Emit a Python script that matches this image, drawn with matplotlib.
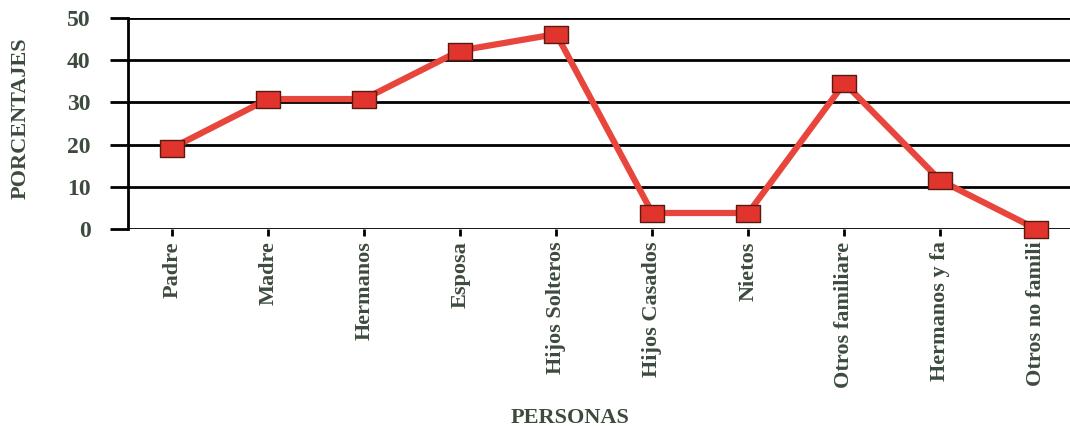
import numpy as np
import matplotlib.pyplot as plt
from matplotlib.path import Path

# Porcentaje de personas con las que convive
personas = ['Padre', 'Madre', 'Hermanos', 'Esposa', 'Hijos Solteros',
            'Hijos Casados', 'Nietos', 'Otros familiare', 'Hermanos y fa',
            'Otros no famili']
porcentajes = [19.2, 30.8, 30.8, 42.3, 46.2, 3.8, 3.8, 34.6, 11.5, 0.0]
yticks = [0, 10, 20, 30, 40, 50]

text_color = '#3d4a3e'
plt.rcParams['font.family'] = ['Liberation Serif', 'DejaVu Serif']
plt.rcParams['font.weight'] = 'bold'

# rectangular marker, a bit wider than tall
rect = Path([(-1, -0.72), (1, -0.72), (1, 0.72), (-1, 0.72), (-1, -0.72)],
            [Path.MOVETO, Path.LINETO, Path.LINETO, Path.LINETO, Path.CLOSEPOLY])

fig = plt.figure(figsize=(10.7, 4.3), dpi=100)
ax = fig.add_axes([0.1196, 0.4674, 0.8804, 0.4907])

x = np.arange(len(personas))
for y in yticks:
    ax.axhline(y, color='black', lw=2.0, zorder=1)

ax.plot(x, porcentajes, color='#e8463c', lw=4.5, marker=rect, markersize=17,
        markerfacecolor='#e0342c', markeredgecolor='#5a1a14', markeredgewidth=1.0,
        zorder=3, clip_on=False)

ax.set_xlim(-0.46, 9.35)
ax.set_ylim(0, 50)
ax.set_yticks(yticks)
ax.set_xticks(x)
ax.set_xticklabels(personas, rotation=90, fontsize=16, color=text_color)
ax.tick_params(axis='y', length=13, width=2.0, pad=14, labelsize=17,
               labelcolor=text_color)
ax.tick_params(axis='x', length=5, width=2.0, pad=4)

for side in ['top', 'right', 'bottom']:
    ax.spines[side].set_visible(False)
ax.spines['left'].set_linewidth(2.0)

fig.text(0.019, 0.725, 'PORCENTAJES', ha='center', va='center', rotation=90,
         fontsize=16, color=text_color, fontweight='bold')
fig.text(0.533, 0.028, 'PERSONAS', ha='center', va='center', fontsize=16,
         color=text_color, fontweight='bold')

plt.savefig('out.png', dpi=100, facecolor='white')
